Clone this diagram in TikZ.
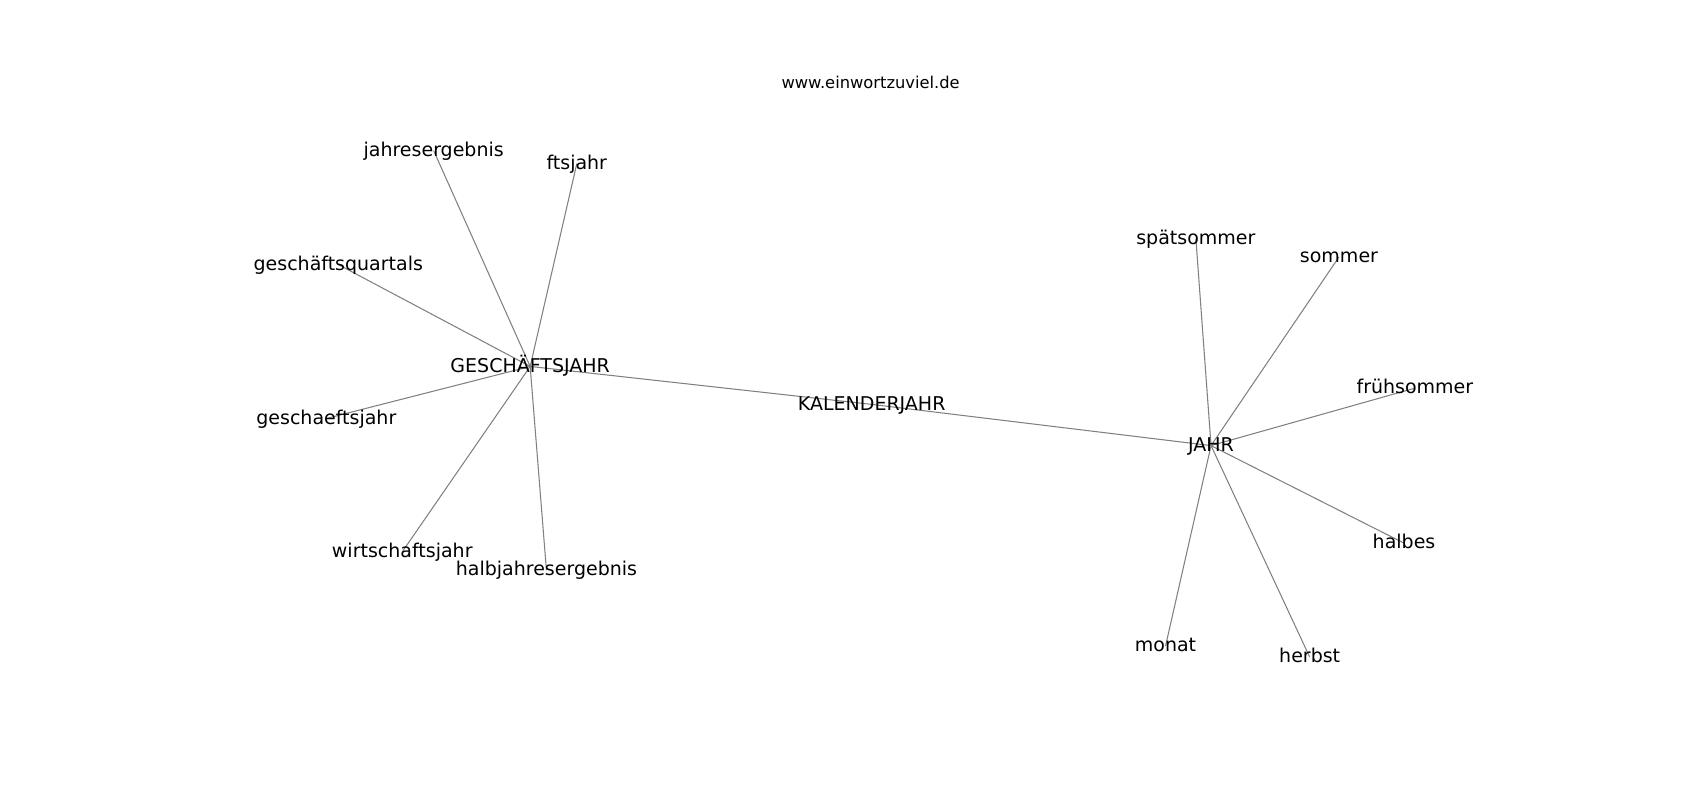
\documentclass[tikz,border=0pt]{standalone}
\usepackage{fontspec}
\setmainfont{DejaVu Sans}
\begin{document}
\begin{tikzpicture}[x=1.0842pt,y=-1.0842pt,
  lbl/.style={inner sep=0pt,font=\fontsize{19}{23}\selectfont,text height=0.74em,text depth=0.2em,anchor=center,yshift=-3pt},
  edge/.style={draw=black!50,line width=1.05pt}]
\useasboundingbox (0,0) rectangle (1568,738);
\node[inner sep=0pt,font=\fontsize{16.3}{19}\selectfont] (title) at (803,76) {www.einwortzuviel.de};
\coordinate (cG) at (489,338);
\coordinate (cK) at (804,373);
\coordinate (cJ) at (1117,411);
\coordinate (c1) at (400,139);
\coordinate (c2) at (532,151);
\coordinate (c3) at (312,244);
\coordinate (c4) at (301,386);
\coordinate (c5) at (371,509);
\coordinate (c6) at (504,526);
\coordinate (c7) at (1103,220);
\coordinate (c8) at (1235,237);
\coordinate (c9) at (1305,358);
\coordinate (c10) at (1295,501);
\coordinate (c11) at (1075,596);
\coordinate (c12) at (1208,606);
\foreach \n in {c1,c2,c3,c4,c5,c6,cK} \draw[edge] (cG) -- (\n);
\foreach \n in {c7,c8,c9,c10,c11,c12} \draw[edge] (cJ) -- (\n);
\draw[edge] (cK) -- (cJ);
\node[lbl] (G) at (cG) {GESCHÄFTSJAHR};
\node[lbl] (K) at (cK) {KALENDERJAHR};
\node[lbl] (J) at (cJ) {JAHR};
\node[lbl] (n1) at (c1) {jahresergebnis};
\node[lbl] (n2) at (c2) {ftsjahr};
\node[lbl] (n3) at (c3) {geschäftsquartals};
\node[lbl] (n4) at (c4) {geschaeftsjahr};
\node[lbl] (n5) at (c5) {wirtschaftsjahr};
\node[lbl] (n6) at (c6) {halbjahresergebnis};
\node[lbl] (n7) at (c7) {spätsommer};
\node[lbl] (n8) at (c8) {sommer};
\node[lbl] (n9) at (c9) {frühsommer};
\node[lbl] (n10) at (c10) {halbes};
\node[lbl] (n11) at (c11) {monat};
\node[lbl] (n12) at (c12) {herbst};
\end{tikzpicture}
\end{document}
